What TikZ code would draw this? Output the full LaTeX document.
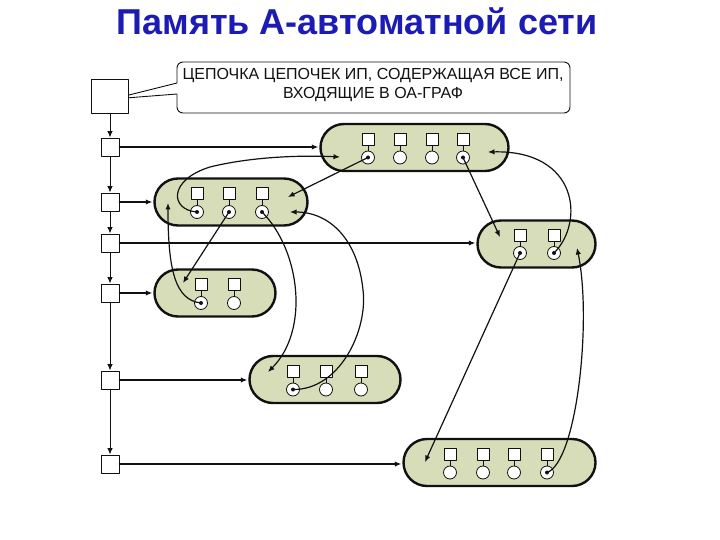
\documentclass[tikz,border=0pt]{standalone}
\usepackage{fontspec}
\setmainfont{Liberation Sans}
\usetikzlibrary{arrows.meta,calc,positioning}
\definecolor{memTitle}{HTML}{1C1CB4}
\definecolor{memCapsule}{HTML}{D6DDB8}
\definecolor{memInk}{HTML}{111111}

\begin{document}
\begin{tikzpicture}[x=1pt,y=-1pt,>={Latex[length=6.5pt,width=5.5pt]},line cap=round,line join=round]
\path[fill=white,use as bounding box] (0,0) rectangle (720,540);
\node[text=memTitle,font=\bfseries\fontsize{36}{40}\selectfont] (title) at (357,21) {Память А-автоматной сети};
\tikzset{cellbox/.style={draw=memInk,fill=white,line width=0.9pt,inner sep=0pt},capsule/.style={draw=memInk,fill=memCapsule,line width=2.4pt,minimum height=47pt,rounded corners=23.5pt,inner sep=0pt},sq/.style={draw=memInk,fill=white,line width=0.8pt,minimum size=12pt,inner sep=0pt},cr/.style={draw=memInk,fill=white,circle,line width=0.8pt,minimum size=13pt,inner sep=0pt},stem/.style={draw=memInk,line width=0.8pt},chain/.style={draw=memInk,line width=1pt,->},feed/.style={draw=memInk,line width=1.8pt,->,shorten >=1pt},ptr/.style={draw=memInk,line width=1.2pt,->}}
% callout with the chain head
\path[draw=memInk,fill=white,line width=0.9pt,rounded corners=6pt] (177,62) rectangle (570,113);
\coordinate (tip) at (113,99);
\fill[white] (178,83) -- (tip) -- (178,94) -- cycle; \draw[memInk,line width=0.9pt] (177,83) -- (tip) -- (177,94);
\node[align=center,font=\fontsize{16}{19}\selectfont,text=memInk] (note) at (373,85) {ЦЕПОЧКА ЦЕПОЧЕК ИП, СОДЕРЖАЩАЯ ВСЕ ИП,\\ВХОДЯЩИЕ В ОА-ГРАФ};
\node[cellbox,minimum width=37pt,minimum height=34pt] (R) at (110,96) {};
\node[cellbox,minimum size=18pt] (L1) at (110,147) {}; \node[cellbox,minimum size=18pt] (L2) at (110,202) {};
\node[cellbox,minimum size=18pt] (L3) at (110,243) {}; \node[cellbox,minimum size=18pt] (L4) at (110,293) {};
\node[cellbox,minimum size=18pt] (L5) at (110,380) {}; \node[cellbox,minimum size=18pt] (L6) at (110,464) {};
\draw[chain] (R) -- (L1); \draw[chain] (L1) -- (L2); \draw[chain] (L2) -- (L3);
\draw[chain] (L3) -- (L4); \draw[chain] (L4) -- (L5); \draw[chain] (L5) -- (L6);
% capsules
\node[capsule,minimum width=188pt] (A) at (414.5,147.5) {};
\node[capsule,minimum width=153pt] (B) at (231,202) {};
\node[capsule,minimum width=121pt] (C) at (215,293) {};
\node[capsule,minimum width=118pt] (D) at (536.5,244) {};
\node[capsule,minimum width=151pt] (E) at (325,379.5) {};
\node[capsule,minimum width=192pt] (F) at (499.5,462.5) {};
\node[sq] (As1) at (368,139) {}; \node[cr] (Ac1) at (368,157.5) {}; \draw[stem] (As1) -- (Ac1);
\node[sq] (As2) at (400,139) {}; \node[cr] (Ac2) at (400,157.5) {}; \draw[stem] (As2) -- (Ac2);
\node[sq] (As3) at (432,139) {}; \node[cr] (Ac3) at (432,157.5) {}; \draw[stem] (As3) -- (Ac3);
\node[sq] (As4) at (463,139) {}; \node[cr] (Ac4) at (463,157.5) {}; \draw[stem] (As4) -- (Ac4);
\node[sq] (Bs1) at (197,193.5) {}; \node[cr] (Bc1) at (197,212) {}; \draw[stem] (Bs1) -- (Bc1);
\node[sq] (Bs2) at (229,193.5) {}; \node[cr] (Bc2) at (229,212) {}; \draw[stem] (Bs2) -- (Bc2);
\node[sq] (Bs3) at (262,193.5) {}; \node[cr] (Bc3) at (262,212) {}; \draw[stem] (Bs3) -- (Bc3);
\node[sq] (Cs1) at (201,284.5) {}; \node[cr] (Cc1) at (201,303) {}; \draw[stem] (Cs1) -- (Cc1);
\node[sq] (Cs2) at (234,284.5) {}; \node[cr] (Cc2) at (234,303) {}; \draw[stem] (Cs2) -- (Cc2);
\node[sq] (Ds1) at (520,235) {}; \node[cr] (Dc1) at (520,253) {}; \draw[stem] (Ds1) -- (Dc1);
\node[sq] (Ds2) at (554,235) {}; \node[cr] (Dc2) at (554,253) {}; \draw[stem] (Ds2) -- (Dc2);
\node[sq] (Es1) at (293,371) {}; \node[cr] (Ec1) at (293,389.5) {}; \draw[stem] (Es1) -- (Ec1);
\node[sq] (Es2) at (326,371) {}; \node[cr] (Ec2) at (326,389.5) {}; \draw[stem] (Es2) -- (Ec2);
\node[sq] (Es3) at (361,371) {}; \node[cr] (Ec3) at (361,389.5) {}; \draw[stem] (Es3) -- (Ec3);
\node[sq] (Fs1) at (450,454) {}; \node[cr] (Fc1) at (450,472.5) {}; \draw[stem] (Fs1) -- (Fc1);
\node[sq] (Fs2) at (483,454) {}; \node[cr] (Fc2) at (483,472.5) {}; \draw[stem] (Fs2) -- (Fc2);
\node[sq] (Fs3) at (514,454) {}; \node[cr] (Fc3) at (514,472.5) {}; \draw[stem] (Fs3) -- (Fc3);
\node[sq] (Fs4) at (547,454) {}; \node[cr] (Fc4) at (547,472.5) {}; \draw[stem] (Fs4) -- (Fc4);
% entry arrows from the chain
\draw[feed] (L1) -- (L1 -| A.west); \draw[feed] (L2) -- (L2 -| B.west); \draw[feed] (L3) -- (L3 -| D.west);
\draw[feed] (L4) -- (L4 -| C.west); \draw[feed] (L5) -- (L5 -| E.west); \draw[feed] (L6) -- (L6 -| F.west);
% pointers
\coordinate (aIn1) at (340,157); \coordinate (aIn2) at (488,152);
\coordinate (bIn1) at (288,197); \coordinate (bIn2) at (168,203); \coordinate (bIn3) at (290,212);
\coordinate (cIn1) at (183,283); \coordinate (dIn1) at (500,237); \coordinate (dIn2) at (577,248);
\coordinate (eIn1) at (268,372); \coordinate (fIn1) at (425,462);
\fill[memInk] (Ac1.center) circle (2); \fill[memInk] (Ac4.center) circle (2);
\fill[memInk] (Bc1.center) circle (2); \fill[memInk] (Bc2.center) circle (2); \fill[memInk] (Bc3.center) circle (2);
\fill[memInk] (Cc1.center) circle (2); \fill[memInk] (Dc1.center) circle (2); \fill[memInk] (Dc2.center) circle (2);
\fill[memInk] (Ec1.center) circle (2); \fill[memInk] (Fc4.center) circle (2);
\draw[ptr] (Ac1.center) -- (bIn1);
\draw[ptr] (Bc1.center) .. controls (170,210) and (168,180) .. (210,167) .. controls (250,157) and (300,155) .. (aIn1);
\draw[ptr] (Ac4.center) -- (dIn1);
\draw[ptr] (Dc2.center) .. controls (585,222) and (578,150) .. (aIn2);
\draw[ptr] (Dc1.center) -- (fIn1);
\draw[ptr] (Fc4.center) .. controls (577,462) and (592,320) .. (dIn2);
\draw[ptr] (Bc2.center) -- (cIn1);
\draw[ptr] (Cc1.center) .. controls (175,300) and (168,270) .. (bIn2);
\draw[ptr] (Bc3.center) .. controls (300,250) and (310,330) .. (eIn1);
\draw[ptr] (Ec1.center) .. controls (340,390) and (368,330) .. (363,290) .. controls (358,240) and (330,212) .. (bIn3);
\end{tikzpicture}
\end{document}
